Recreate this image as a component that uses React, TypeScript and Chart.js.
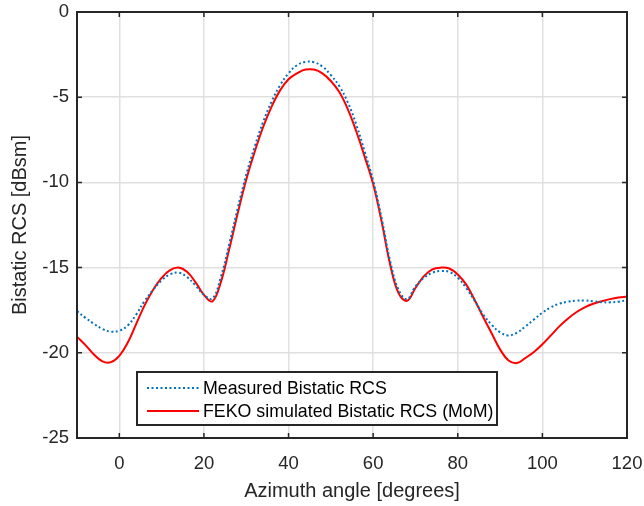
import React, { useEffect, useRef } from 'react';
import { Chart, registerables } from 'chart.js';
Chart.register(...registerables);

const angles = [-10, -8, -6, -4, -2, 0, 2, 4, 6, 8, 10, 12, 14, 16, 18, 20, 22, 24, 26, 28, 30, 32, 34, 36, 38, 40, 42, 44, 46, 48, 50, 52, 54, 56, 58, 60, 62, 64, 66, 68, 70, 72, 74, 76, 78, 80, 82, 84, 86, 88, 90, 92, 94, 96, 98, 100, 102, 104, 106, 108, 110, 112, 114, 116, 118, 120];

const measured = [-17.55, -17.95, -18.3, -18.6, -18.76, -18.7, -18.4, -17.75, -16.95, -16.3, -15.75, -15.4, -15.3, -15.55, -16.05, -16.6, -16.82, -15.55, -13.6, -11.5, -9.55, -7.9, -6.45, -5.25, -4.3, -3.6, -3.12, -2.93, -2.95, -3.2, -3.7, -4.35, -5.3, -6.6, -8.2, -9.9, -12.1, -14.6, -16.3, -16.85, -16.1, -15.6, -15.3, -15.2, -15.25, -15.6, -16.2, -16.95, -17.75, -18.35, -18.8, -18.98, -18.82, -18.45, -18.05, -17.65, -17.33, -17.12, -17.0, -16.94, -16.93, -16.98, -17.03, -17.04, -17.0, -16.9];

const feko = [-19.05, -19.55, -20.1, -20.5, -20.55, -20.18, -19.4, -18.3, -17.2, -16.3, -15.6, -15.15, -15.0, -15.25, -15.85, -16.6, -16.98, -15.85, -13.9, -11.8, -9.85, -8.2, -6.75, -5.55, -4.6, -3.95, -3.6, -3.38, -3.38, -3.6, -4.05, -4.7, -5.7, -7.0, -8.5, -10.1, -12.3, -14.8, -16.5, -16.95, -16.2, -15.5, -15.1, -15.0, -15.05, -15.4, -16.0, -16.9, -17.9, -18.85, -19.8, -20.45, -20.6, -20.3, -19.95, -19.5, -18.98, -18.45, -18.0, -17.62, -17.33, -17.12, -16.97, -16.85, -16.76, -16.7];

const xTicks = [0, 20, 40, 60, 80, 100, 120];
const yTicks = [-25, -20, -15, -10, -5, 0];
const seriesLabels = ['Measured Bistatic RCS', 'FEKO simulated Bistatic RCS (MoM)'];

const FONT = '"Liberation Sans", Arial, sans-serif';
const AXIS = '#262626';

const boxPlugin = {
  id: 'matlabBox',
  afterDatasetsDraw(chart: any) {
    const { ctx, chartArea: a, scales } = chart;
    const x = scales.x, y = scales.y;
    ctx.save();
    ctx.strokeStyle = AXIS;
    ctx.lineWidth = 1.5;
    const tl = 5;
    ctx.beginPath();
    xTicks.forEach((v) => {
      const px = x.getPixelForValue(v);
      ctx.moveTo(px, a.bottom); ctx.lineTo(px, a.bottom - tl);
      ctx.moveTo(px, a.top); ctx.lineTo(px, a.top + tl);
    });
    yTicks.forEach((v) => {
      const py = y.getPixelForValue(v);
      ctx.moveTo(a.left, py); ctx.lineTo(a.left + tl, py);
      ctx.moveTo(a.right, py); ctx.lineTo(a.right - tl, py);
    });
    ctx.stroke();
    ctx.lineWidth = 2;
    ctx.strokeRect(a.left, a.top, a.right - a.left, a.bottom - a.top);

    // legend
    const lx = 137, ly = 372, lw = 360, lh = 53;
    ctx.fillStyle = '#ffffff';
    ctx.fillRect(lx, ly, lw, lh);
    ctx.strokeStyle = AXIS;
    ctx.lineWidth = 2;
    ctx.strokeRect(lx, ly, lw, lh);
    const rows = [ly + 16, ly + 39];
    chart.data.datasets.forEach((ds: any, i: number) => {
      const ry = rows[i];
      ctx.save();
      ctx.strokeStyle = ds.borderColor;
      ctx.lineWidth = ds.borderWidth;
      ctx.setLineDash(ds.borderDash || []);
      ctx.beginPath();
      ctx.moveTo(lx + 10, ry);
      ctx.lineTo(lx + 62, ry);
      ctx.stroke();
      ctx.restore();
      ctx.fillStyle = '#000000';
      ctx.font = `17.8px ${FONT}`;
      ctx.textBaseline = 'middle';
      ctx.textAlign = 'left';
      ctx.fillText(ds.label, lx + 66, ry + 1);
    });
    ctx.restore();
  },
};

export default function App() {
  const ref = useRef<HTMLCanvasElement>(null);
  useEffect(() => {
    if (!ref.current) return;
    const chart = new Chart(ref.current, {
      type: 'line',
      data: {
        datasets: [
          {
            label: seriesLabels[0],
            data: angles.map((a, i) => ({ x: a, y: measured[i] })),
            borderColor: '#0072BD',
            borderWidth: 2,
            borderDash: [2, 2.5],
            pointRadius: 0,
            tension: 0.4,
            fill: false,
          },
          {
            label: seriesLabels[1],
            data: angles.map((a, i) => ({ x: a, y: feko[i] })),
            borderColor: '#FF0000',
            borderWidth: 2,
            pointRadius: 0,
            tension: 0.4,
            fill: false,
          },
        ],
      },
      options: {
        animation: false,
        responsive: false,
        devicePixelRatio: 1,
        layout: { padding: { left: 0, right: 17, top: 12, bottom: 0 } },
        plugins: { legend: { display: false }, tooltip: { enabled: false } },
        scales: {
          x: {
            type: 'linear',
            min: -10,
            max: 120,
            afterBuildTicks: (s: any) => { s.ticks = xTicks.map((v) => ({ value: v })); },
            afterFit: (s: any) => { s.height = 68; s.paddingLeft = 0; s.paddingRight = 0; },
            border: { display: false },
            grid: { color: '#e0e0e0', lineWidth: 1.5, drawTicks: false },
            ticks: { color: AXIS, padding: 15, font: { family: FONT, size: 18.5 }, maxRotation: 0 },
            title: { display: true, text: 'Azimuth angle [degrees]', color: AXIS, font: { family: FONT, size: 20 }, padding: { bottom: 3, top: 0 } },
          },
          y: {
            type: 'linear',
            min: -25,
            max: 0,
            afterBuildTicks: (s: any) => { s.ticks = yTicks.map((v) => ({ value: v })); },
            afterFit: (s: any) => { s.width = 77; s.paddingTop = 0; s.paddingBottom = 0; },
            border: { display: false },
            grid: { color: '#e0e0e0', lineWidth: 1.5, drawTicks: false },
            ticks: { color: AXIS, padding: 8, font: { family: FONT, size: 18.5 } },
            title: { display: true, text: 'Bistatic RCS [dBsm]', color: AXIS, font: { family: FONT, size: 20 }, padding: { top: 8, bottom: 0 } },
          },
        },
      },
      plugins: [boxPlugin],
    } as any);
    return () => chart.destroy();
  }, []);
  return (
    <div style={{ position: 'fixed', left: 0, top: 0, width: 644, height: 506, background: '#fff' }}>
      <canvas ref={ref} width={644} height={506} style={{ width: 644, height: 506, display: 'block' }} />
    </div>
  );
}
